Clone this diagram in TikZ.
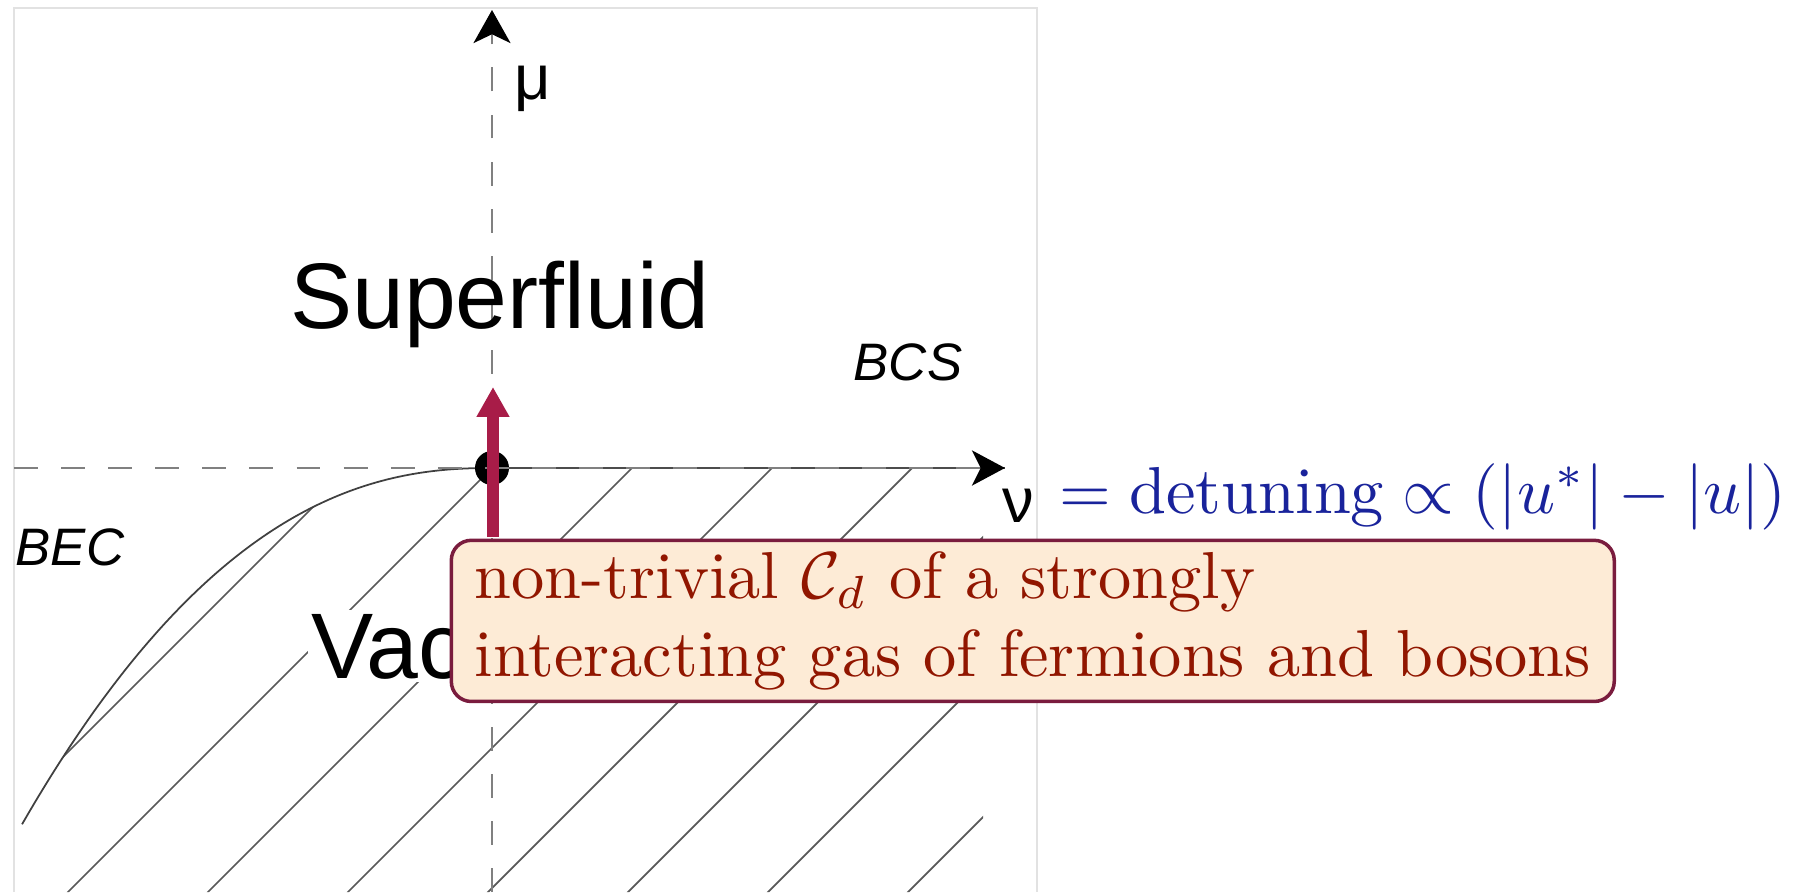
\documentclass[tikz,border=0pt]{standalone}
\usepackage{fontspec}
\usetikzlibrary{arrows.meta}

\newfontfamily\diagfont{Liberation Sans}

\definecolor{framegray}{RGB}{226,226,226}
\definecolor{notefill}{RGB}{253,235,214}
\definecolor{noteborder}{RGB}{122,28,62}
\definecolor{notetext}{RGB}{145,22,0}
\definecolor{arrowred}{RGB}{168,28,72}
\definecolor{detuneblue}{RGB}{25,35,155}

\newcommand*{\xmin}{-4.78}
\newcommand*{\xmax}{5.45}
\newcommand*{\ymin}{-4.24}
\newcommand*{\ymax}{4.60}
\newcommand*{\notescale}{1.89}

\begin{document}
\begin{tikzpicture}[
	axis/.style={gray, line width=0.85pt, dash pattern=on 6.8pt off 6.6pt},
	hatch/.style={black!65, line width=0.5pt},
	phase/.style={font=\diagfont\fontsize{26.5}{30}\selectfont, inner sep=0pt},
	limit/.style={font=\diagfont\itshape\fontsize{15}{18}\selectfont, inner sep=0pt},
	greek/.style={font=\diagfont\fontsize{18}{21}\selectfont, inner sep=0pt},
	bigtext/.style={scale=\notescale, transform shape, font=\fontsize{10}{11.75}\selectfont},
	note/.style={bigtext, draw=noteborder, line width=1pt, fill=notefill, rounded corners=0.2cm,
		text=notetext, align=left, inner ysep=1.7pt, minimum width=6.153cm, minimum height=0.847cm}
]
	\useasboundingbox (-4.92,-4.24) rectangle (13.10,4.68);

	% frame
	\draw[framegray, line width=0.6pt] (\xmin,\ymin) -- (\xmin,\ymax) -- (\xmax,\ymax) -- (\xmax,\ymin);

	% hatched region below the boundary
	\begin{scope}
		\clip (4.91,0) -- (0,0) -- plot[domain=0.001:4.7, samples=60, smooth] ({-\x},{-0.103*\x^2.29})
			-- (-4.7,\ymin) -- (4.91,\ymin) -- cycle;
		\foreach \k in {-1,...,6}
			\draw[hatch] ({1.4*\k-5},-5) -- ++(10,10);
	\end{scope}

	% boundary
	\draw[black!75, line width=0.5pt] plot[domain=0.001:4.7, samples=60, smooth] ({-\x},{-0.103*\x^2.29});

	\coordinate (xstart) at (\xmin,0);
	\coordinate (xtip) at (5.13,0);
	\coordinate (ystart) at (0,\ymin);
	\coordinate (ytip) at (0,4.58);
	\node[circle, fill=black, minimum size=0.34cm, inner sep=0pt] (crit) at (0,0) {};

	% axes
	\draw[black!70, line width=0.6pt] (crit.center) -- (xtip);
	\draw[axis, -{Stealth[color=black, length=9.4pt, width=10pt, inset=2.5pt]}] (xstart) -- (xtip);
	\draw[axis, -{Stealth[color=black, length=9.4pt, width=10.5pt, inset=2.5pt]}] (ystart) -- (ytip);
	\node[greek, anchor=base west] (mu) at (0.22,3.68) {μ};
	\node[greek, anchor=base west] (nu) at (5.10,-0.54) {ν};

	\node[phase, anchor=base] (superfluid) at (0.08,1.40) {Superfluid};
	\node[limit, anchor=base] (bcs) at (4.16,0.88) {BCS};
	\node[limit, anchor=base west] (bec) at (-4.77,-0.97) {BEC};
	\node[phase, anchor=base west, fill=white, inner sep=1pt] (vac) at (-1.85,-2.10) {Vac};

	\node[note, anchor=north west] (note) at (-0.44,-0.69)
		{non-trivial $\mathcal{C}_d$ of a strongly\\interacting gas of fermions and bosons};

	\coordinate (pointer) at (0.01,0.81);
	\draw[arrowred, line width=3.4pt, -{Triangle[length=8.5pt, width=8.8pt]}] (note.north -| pointer) -- (pointer);

	\node[bigtext, anchor=base west, text=detuneblue, inner sep=0pt] (detuning)
		at (5.66,-0.45) {$=\mathrm{detuning}\propto(|u^*|-|u|)$};

\end{tikzpicture}
\end{document}
